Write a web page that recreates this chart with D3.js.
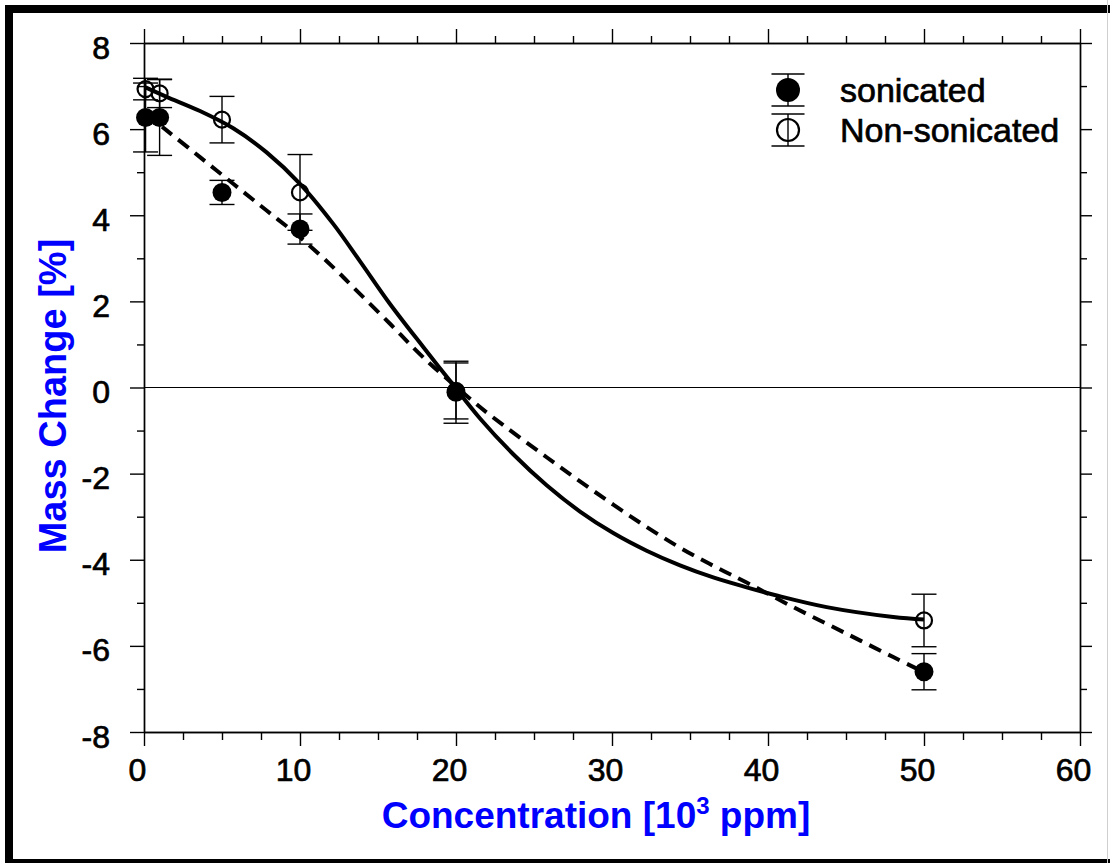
<!DOCTYPE html>
<html>
<head>
<meta charset="utf-8">
<script src="https://cdn.jsdelivr.net/npm/d3@7"></script>
<style>
  html, body { margin: 0; padding: 0; background: #fff; }
  svg { display: block; }
  text { font-family: "Liberation Sans", Arial, Helvetica, sans-serif; }
</style>
</head>
<body>
<svg id="chart" width="1110" height="863"></svg>
<script>
// ---- data ----
const concentrations = [0.1, 1, 5, 10, 20, 50];
const sonicated = [6.27, 6.27, 4.53, 3.68, -0.11, -6.60];
const sonicatedErr = [0.80, 0.88, 0.28, 0.35, 0.72, 0.42];
const nonSonicated = [6.93, 6.83, 6.22, 4.53, -0.08, -5.41];
const nonSonicatedErr = [0.25, 0.33, 0.54, 0.88, 0.65, 0.61];

// fitted curves
const fitSolidX = [0.1, 1.45, 3.59, 5.72, 7.86, 10, 12.13, 13.85, 15.77, 17.9, 19.6, 21.54, 23.67, 25.81, 27.95, 30.08, 32.22, 34.36, 36.49, 38.63, 40.56, 43.76, 48.03, 50];
const fitSolidY = [6.97, 6.75, 6.42, 6.02, 5.46, 4.73, 3.80, 2.93, 1.94, 0.94, 0.16, -0.72, -1.55, -2.27, -2.88, -3.38, -3.79, -4.13, -4.41, -4.64, -4.83, -5.10, -5.33, -5.39];
const fitDashX = [0.1, 1.45, 3.59, 5.72, 7.86, 10, 12.13, 13.63, 15.77, 17.9, 20.9, 22.18, 25.81, 27.95, 30.08, 32.22, 34.36, 36.49, 38.63, 41.62, 44.83, 48.03, 50];
const fitDashY = [6.36, 5.97, 5.35, 4.73, 4.11, 3.49, 2.79, 2.25, 1.48, 0.70, -0.26, -0.64, -1.62, -2.18, -2.72, -3.24, -3.72, -4.14, -4.53, -5.10, -5.68, -6.26, -6.61];

const xTicks = [0, 10, 20, 30, 40, 50, 60];
const xTickLabels = ["0", "10", "20", "30", "40", "50", "60"];
const xMinor = [2.5, 5, 7.5, 12.5, 15, 17.5, 22.5, 25, 27.5, 32.5, 35, 37.5, 42.5, 45, 47.5, 52.5, 55, 57.5];
const yTicks = [-8, -6, -4, -2, 0, 2, 4, 6, 8];
const yTickLabels = ["-8", "-6", "-4", "-2", "0", "2", "4", "6", "8"];
const yMinor = [-7, -5, -3, -1, 1, 3, 5, 7];

const seriesNames = ["sonicated", "Non-sonicated"];
const xTitle = "Concentration [10";
const xTitleSup = "3";
const xTitleEnd = " ppm]";
const yTitle = "Mass Change [%]";

// ---- layout ----
const svg = d3.select("#chart");
const L = 144, R = 1080, T = 43, B = 732;
const x = d3.scaleLinear().domain([0, 60]).range([L, R]);
const y = d3.scaleLinear().domain([-8, 8]).range([B, T]);

svg.append("rect").attr("width", 1110).attr("height", 863).attr("fill", "#fff");
// frame
svg.append("rect").attr("x", 9).attr("y", 9).attr("width", 1300).attr("height", 854)
  .attr("fill", "none").attr("stroke", "#000").attr("stroke-width", 8);
svg.append("line").attr("x1", 1107.5).attr("x2", 1107.5).attr("y1", 0).attr("y2", 863)
  .attr("stroke", "#cfcfcf").attr("stroke-width", 1);

const AX_W = 1.4;
function styleAxis(g) {
  g.select(".domain").attr("stroke", "#000").attr("stroke-width", AX_W);
  g.selectAll(".tick line").attr("stroke", "#000").attr("stroke-width", AX_W);
  g.selectAll("text").attr("fill", "#000").attr("stroke", "#000").attr("stroke-width", 0.7)
    .style("font-size", "32px");
}

// bottom axis
const gB = svg.append("g").attr("transform", `translate(0,${B})`)
  .call(d3.axisBottom(x).tickValues(xTicks).tickSize(14).tickSizeOuter(0).tickPadding(12)
    .tickFormat((d, i) => xTickLabels[i]));
styleAxis(gB);
gB.selectAll("text").attr("dx", -7);
svg.append("g").attr("transform", `translate(0,${B})`)
  .call(d3.axisBottom(x).tickValues(xMinor).tickSize(8).tickSizeOuter(0).tickFormat(""))
  .call(styleAxis);
// top axis
svg.append("g").attr("transform", `translate(0,${T})`)
  .call(d3.axisTop(x).tickValues(xTicks).tickSize(14).tickSizeOuter(0).tickFormat(""))
  .call(styleAxis);
svg.append("g").attr("transform", `translate(0,${T})`)
  .call(d3.axisTop(x).tickValues(xMinor).tickSize(7).tickSizeOuter(0).tickFormat(""))
  .call(styleAxis);
// left axis
const gL = svg.append("g").attr("transform", `translate(${L},0)`)
  .call(d3.axisLeft(y).tickValues(yTicks).tickSize(14).tickSizeOuter(0).tickPadding(20)
    .tickFormat((d, i) => yTickLabels[i]));
styleAxis(gL);
gL.selectAll("text").attr("dy", "0.47em");
svg.append("g").attr("transform", `translate(${L},0)`)
  .call(d3.axisLeft(y).tickValues(yMinor).tickSize(7).tickSizeOuter(0).tickFormat(""))
  .call(styleAxis);
// right axis
svg.append("g").attr("transform", `translate(${R},0)`)
  .call(d3.axisRight(y).tickValues(yTicks).tickSize(12).tickSizeOuter(0).tickFormat(""))
  .call(styleAxis);
svg.append("g").attr("transform", `translate(${R},0)`)
  .call(d3.axisRight(y).tickValues(yMinor).tickSize(7).tickSizeOuter(0).tickFormat(""))
  .call(styleAxis);

// zero line
svg.append("line").attr("x1", x(0)).attr("x2", x(60)).attr("y1", y(0)).attr("y2", y(0))
  .attr("stroke", "#000").attr("stroke-width", 1.2);

// axis titles
const xt = svg.append("text").attr("x", 596).attr("y", 828).attr("text-anchor", "middle")
  .attr("fill", "#0000ff").style("font-size", "37px").style("font-weight", "bold");
xt.append("tspan").text(xTitle);
xt.append("tspan").text(xTitleSup).attr("dy", -14).style("font-size", "24px");
xt.append("tspan").text(xTitleEnd).attr("dy", 14);

svg.append("text").attr("transform", "translate(66,396) rotate(-90)").attr("text-anchor", "middle")
  .attr("fill", "#0000ff").style("font-size", "38px").style("font-weight", "bold").text(yTitle);

// fit curves
const line = d3.line().x(d => x(d[0])).y(d => y(d[1])).curve(d3.curveCatmullRom.alpha(0.5));
svg.append("path").datum(fitSolidX.map((v, i) => [v, fitSolidY[i]]))
  .attr("d", line).attr("fill", "none").attr("stroke", "#000").attr("stroke-width", 4);
svg.append("path").datum(fitDashX.map((v, i) => [v, fitDashY[i]]))
  .attr("d", line).attr("fill", "none").attr("stroke", "#000").attr("stroke-width", 4)
  .attr("stroke-dasharray", "13,8");

// error bars
const CAP = 12.5;
function errorBars(vals, errs) {
  const g = svg.append("g").attr("stroke", "#000").attr("stroke-width", 1.4);
  concentrations.forEach((c, i) => {
    const cx = x(c), y1 = y(vals[i] + errs[i]), y2 = y(vals[i] - errs[i]);
    g.append("line").attr("x1", cx).attr("x2", cx).attr("y1", y1).attr("y2", y2);
    g.append("line").attr("x1", cx - CAP).attr("x2", cx + CAP).attr("y1", y1).attr("y2", y1);
    g.append("line").attr("x1", cx - CAP).attr("x2", cx + CAP).attr("y1", y2).attr("y2", y2);
  });
}
errorBars(nonSonicated, nonSonicatedErr);
errorBars(sonicated, sonicatedErr);

// markers
svg.append("g").selectAll("circle").data(concentrations).join("circle")
  .attr("cx", d => x(d)).attr("cy", (d, i) => y(nonSonicated[i])).attr("r", 8)
  .attr("fill", "none").attr("stroke", "#000").attr("stroke-width", 2.2);
svg.append("g").selectAll("circle").data(concentrations).join("circle")
  .attr("cx", d => x(d)).attr("cy", (d, i) => y(sonicated[i])).attr("r", 9.5)
  .attr("fill", "#000");

// legend
const lg = svg.append("g");
const LX = 788, rows = [90, 130];
rows.forEach((ry, i) => {
  lg.append("line").attr("x1", LX).attr("x2", LX).attr("y1", ry - 16).attr("y2", ry + 16)
    .attr("stroke", "#000").attr("stroke-width", 1.4);
  [ry - 16, ry + 16].forEach(cy => lg.append("line").attr("x1", LX - 16.5).attr("x2", LX + 16.5)
    .attr("y1", cy).attr("y2", cy).attr("stroke", "#000").attr("stroke-width", 1.4));
  if (i === 0) lg.append("circle").attr("cx", LX).attr("cy", ry).attr("r", 12).attr("fill", "#000");
  else lg.append("circle").attr("cx", LX).attr("cy", ry).attr("r", 11).attr("fill", "none")
    .attr("stroke", "#000").attr("stroke-width", 2.2);
  lg.append("text").attr("x", 840).attr("y", ry + 12).attr("fill", "#000")
    .attr("stroke", "#000").attr("stroke-width", 0.7)
    .style("font-size", "34px").text(seriesNames[i]);
});
</script>
</body>
</html>
